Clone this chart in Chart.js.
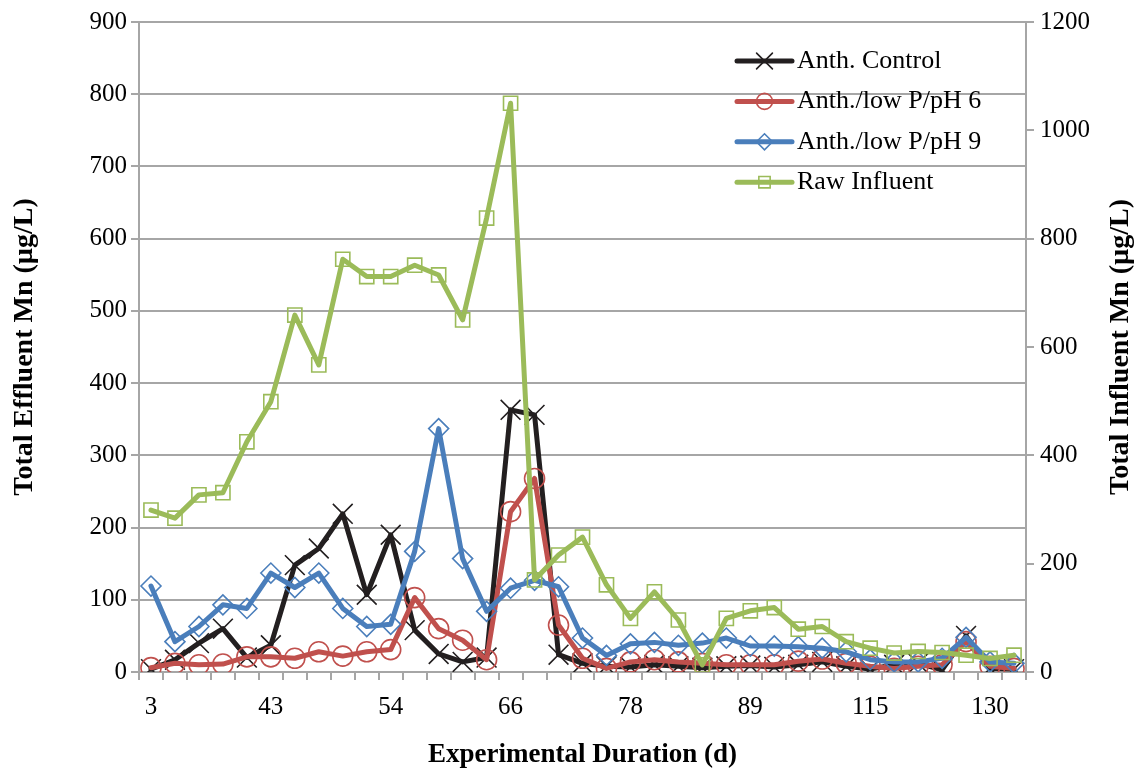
<!DOCTYPE html>
<html>
<head>
<meta charset="utf-8">
<script src="https://cdn.jsdelivr.net/npm/chart.js@4.4.1/dist/chart.umd.min.js"></script>
<style>
  html, body { margin: 0; padding: 0; background: #fff; }
</style>
</head>
<body>
<canvas id="mn" width="1143" height="774"></canvas>
<script>
// sampling days (only every 5th one is labelled on the axis)
const days = [3, 33, 36, 38, 40, 43, 45, 47, 49, 52, 54, 57, 59, 61, 64, 66, 68, 71, 73,
  75, 78, 80, 82, 85, 87, 89, 94, 99, 104, 110, 115, 118, 121, 124, 127, 130, 133];
const labelEvery = 5;

// effluent Mn, µg/L (left axis)
const anthControl = [4, 17, 40, 60, 20, 37, 148, 171, 219, 107, 190, 58, 25, 14, 20, 363, 356, 24, 12,
  8, 7, 10, 8, 6, 8, 9, 7, 10, 14, 8, 4, 10, 12, 3, 50, 5, 4];
const lowPpH6 = [6, 12, 10, 11, 21, 21, 19, 28, 22, 28, 31, 103, 60, 44, 17, 222, 268, 65, 19,
  5, 14, 17, 14, 12, 10, 10, 10, 15, 18, 12, 8, 5, 8, 10, 42, 8, 5];
const lowPpH9 = [119, 42, 63, 93, 88, 137, 117, 137, 88, 63, 66, 167, 337, 157, 84, 116, 127, 118, 47,
  23, 39, 41, 37, 40, 47, 36, 36, 35, 33, 28, 17, 14, 14, 19, 48, 14, 12];

// influent Mn, µg/L (right axis)
const rawInfluent = [299, 284, 327, 331, 425, 499, 659, 567, 762, 730, 730, 751, 733, 650, 838, 1050, 170, 216, 249,
  161, 99, 148, 96, 13, 99, 113, 119, 79, 84, 56, 44, 35, 38, 36, 31, 25, 31];

const serif = "'Liberation Serif', 'Times New Roman', serif";
const grey = '#a6a6a6';
const tickFont = { family: serif, size: 25 };
const yTitleFont = { family: serif, size: 28, weight: 'bold' };
const xTitleFont = { family: serif, size: 27, weight: 'bold' };

function series(label, data, color, style, radius, order, axis) {
  return {
    label: label,
    data: data,
    yAxisID: axis,
    order: order,
    borderColor: color,
    borderWidth: 5,
    borderJoinStyle: 'round',
    borderCapStyle: 'round',
    pointStyle: style,
    pointRadius: radius,
    pointBorderColor: color,
    pointBackgroundColor: 'rgba(0,0,0,0)',
    pointBorderWidth: 1.6,
    tension: 0
  };
}

// legend sitting inside the plot, top right, plus the right-hand axis title
const insideLegend = {
  id: 'insideLegend',
  afterDraw(chart) {
    const ctx = chart.ctx;
    const area = chart.chartArea;
    const x0 = area.right - 289;
    const y0 = area.top + 39;
    chart.data.datasets.forEach(function (ds, i) {
      const y = y0 + i * 40.4;
      ctx.save();
      ctx.strokeStyle = ds.borderColor;
      ctx.lineWidth = ds.borderWidth;
      ctx.lineCap = 'round';
      ctx.beginPath();
      ctx.moveTo(x0, y);
      ctx.lineTo(x0 + 55, y);
      ctx.stroke();
      ctx.strokeStyle = ds.pointBorderColor;
      ctx.fillStyle = 'rgba(0,0,0,0)';
      ctx.lineWidth = ds.pointBorderWidth;
      Chart.helpers.drawPoint(ctx, {
        pointStyle: ds.pointStyle,
        radius: ds.pointRadius * 0.8,
        borderWidth: ds.pointBorderWidth,
        rotation: 0
      }, x0 + 27.5, y);
      ctx.fillStyle = '#000';
      ctx.font = '26px ' + serif;
      ctx.textBaseline = 'middle';
      ctx.textAlign = 'left';
      ctx.fillText(ds.label, x0 + 60, y);
      ctx.restore();
    });

    // right axis title reads bottom-to-top like the left one
    ctx.save();
    ctx.translate(chart.width - 22, (area.top + area.bottom) / 2);
    ctx.rotate(-Math.PI / 2);
    ctx.font = 'bold 28px ' + serif;
    ctx.fillStyle = '#000';
    ctx.textAlign = 'center';
    ctx.textBaseline = 'middle';
    ctx.fillText('Total Influent Mn (µg/L)', 0, 0);
    ctx.restore();
  }
};

new Chart(document.getElementById('mn'), {
  type: 'line',
  data: {
    labels: days,
    datasets: [
      series('Anth. Control', anthControl, '#231f20', 'crossRot', 14, 4, 'y'),
      series('Anth./low P/pH 6', lowPpH6, '#c0504d', 'circle', 10, 3, 'y'),
      series('Anth./low P/pH 9', lowPpH9, '#4a7ebb', 'rectRot', 10, 2, 'y'),
      series('Raw Influent', rawInfluent, '#9bbb59', 'rect', 10, 1, 'y2')
    ]
  },
  options: {
    responsive: false,
    animation: false,
    layout: { padding: { top: 22 } },
    plugins: {
      legend: { display: false },
      tooltip: { enabled: false }
    },
    scales: {
      x: {
        offset: true,
        grid: { offset: true, drawOnChartArea: false, tickLength: 8, color: grey, lineWidth: 2 },
        border: { color: grey, width: 2 },
        ticks: {
          autoSkip: false,
          maxRotation: 0,
          padding: 12,
          color: '#000',
          font: tickFont,
          callback: function (v, i) { return i % labelEvery === 0 ? days[i] : ''; }
        },
        title: {
          display: true,
          text: 'Experimental Duration (d)',
          color: '#000',
          font: xTitleFont,
          padding: { bottom: 3 }
        },
        afterFit: function (s) { s.height = 102; }
      },
      y: {
        position: 'left',
        min: 0,
        max: 900,
        grid: { color: grey, lineWidth: 2, tickLength: 8 },
        border: { color: grey, width: 2 },
        ticks: { stepSize: 100, padding: 4, color: '#000', font: tickFont },
        title: {
          display: true,
          text: 'Total Effluent Mn (µg/L)',
          color: '#000',
          font: yTitleFont,
          padding: { top: 8 }
        },
        afterFit: function (s) { s.width = 139; }
      },
      y2: {
        position: 'right',
        min: 0,
        max: 1200,
        grid: { drawOnChartArea: false, color: grey, lineWidth: 2, tickLength: 8 },
        border: { color: grey, width: 2 },
        ticks: {
          stepSize: 200,
          padding: 6,
          color: '#000',
          font: tickFont,
          callback: function (v) { return String(v); }
        },
        afterFit: function (s) { s.width = 117; }
      }
    }
  },
  plugins: [insideLegend]
});
</script>
</body>
</html>
